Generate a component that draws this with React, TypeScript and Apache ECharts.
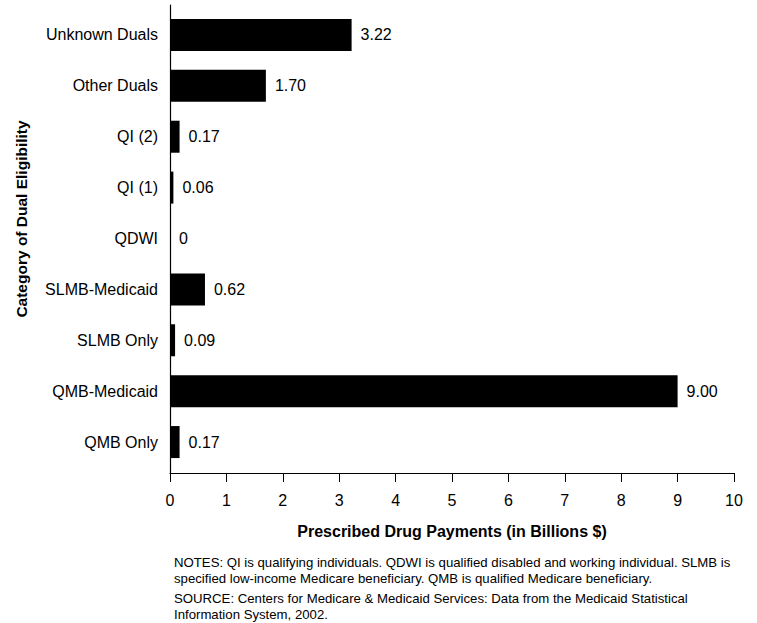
import React, { useEffect, useRef } from "react";
import * as echarts from "echarts";

const categories = [
  "QMB Only",
  "QMB-Medicaid",
  "SLMB Only",
  "SLMB-Medicaid",
  "QDWI",
  "QI (1)",
  "QI (2)",
  "Other Duals",
  "Unknown Duals",
];
const values = [0.17, 9.0, 0.09, 0.62, 0, 0.06, 0.17, 1.7, 3.22];
const valueLabels = ["0.17", "9.00", "0.09", "0.62", "0", "0.06", "0.17", "1.70", "3.22"];
const xTicks = [0, 1, 2, 3, 4, 5, 6, 7, 8, 9, 10];

const xTitle = "Prescribed Drug Payments (in Billions $)";
const yTitle = "Category of Dual Eligibility";
const notes = [
  "NOTES: QI is qualifying individuals. QDWI is qualified disabled and working individual. SLMB is",
  "specified low-income Medicare beneficiary. QMB is qualified Medicare beneficiary.",
];
const source = [
  "SOURCE: Centers for Medicare & Medicaid Services: Data from the Medicaid Statistical",
  "Information System, 2002.",
];

const FONT = "'Liberation Sans', Arial, Helvetica, sans-serif";

export default function App() {
  const ref = useRef<HTMLDivElement>(null);
  useEffect(() => {
    if (!ref.current) return;
    const chart = echarts.init(ref.current, null, { renderer: "svg" });
    const xMin = xTicks[0];
    const xMax = xTicks[xTicks.length - 1];
    chart.setOption({
      animation: false,
      backgroundColor: "#ffffff",
      textStyle: { fontFamily: FONT },
      grid: [
        { left: 170, right: 23, top: 9.5, bottom: 155.5, containLabel: false },
        { left: 170, right: 23, top: 5, bottom: 150, containLabel: false },
      ],
      xAxis: [
        {
          gridIndex: 0,
          type: "value",
          min: xMin,
          max: xMax,
          interval: 1,
          show: false,
        },
        {
          gridIndex: 1,
          type: "value",
          min: xMin,
          max: xMax,
          interval: 1,
          axisLine: { show: true, lineStyle: { color: "#000", width: 1.2 } },
          axisTick: { show: true, length: 9, lineStyle: { color: "#000" } },
          axisLabel: { color: "#000", fontSize: 16, margin: 19, fontFamily: FONT },
          splitLine: { show: false },
          name: xTitle,
          nameLocation: "middle",
          nameGap: 50,
          nameTextStyle: { color: "#000", fontSize: 16, fontWeight: "bold", fontFamily: FONT },
        },
      ],
      yAxis: [
        {
          gridIndex: 0,
          type: "category",
          data: categories,
          axisLine: { show: false },
          axisTick: { show: false },
          axisLabel: { color: "#000", fontSize: 16, margin: 12, fontFamily: FONT },
          splitLine: { show: false },
        },
        {
          gridIndex: 1,
          type: "value",
          min: 0,
          max: 1,
          axisLine: { show: true, lineStyle: { color: "#000", width: 1.2 } },
          axisTick: { show: false },
          axisLabel: { show: false },
          splitLine: { show: false },
        },
      ],
      series: [
        {
          type: "bar",
          xAxisIndex: 0,
          yAxisIndex: 0,
          data: values,
          barWidth: 32,
          itemStyle: { color: "#000" },
          label: {
            show: true,
            position: "right",
            distance: 9,
            color: "#000",
            fontSize: 16,
            fontFamily: FONT,
            formatter: (p: any) => valueLabels[p.dataIndex],
          },
        },
      ],
      graphic: [
        {
          type: "text",
          x: 21,
          y: 219,
          rotation: Math.PI / 2,
          style: {
            text: yTitle,
            fill: "#000",
            font: `bold 15.5px ${FONT}`,
            textAlign: "center",
            textVerticalAlign: "middle",
          },
        },
        {
          type: "text",
          left: 174,
          top: 554,
          style: {
            text: notes.join("\n"),
            fill: "#000",
            font: `13.2px ${FONT}`,
            lineHeight: 16,
          },
        },
        {
          type: "text",
          left: 174,
          top: 590,
          style: {
            text: source.join("\n"),
            fill: "#000",
            font: `13.2px ${FONT}`,
            lineHeight: 16,
          },
        },
      ],
    });
    return () => chart.dispose();
  }, []);
  return (
    <div
      ref={ref}
      style={{ position: "absolute", left: 0, top: 0, width: 757, height: 623 }}
    />
  );
}
